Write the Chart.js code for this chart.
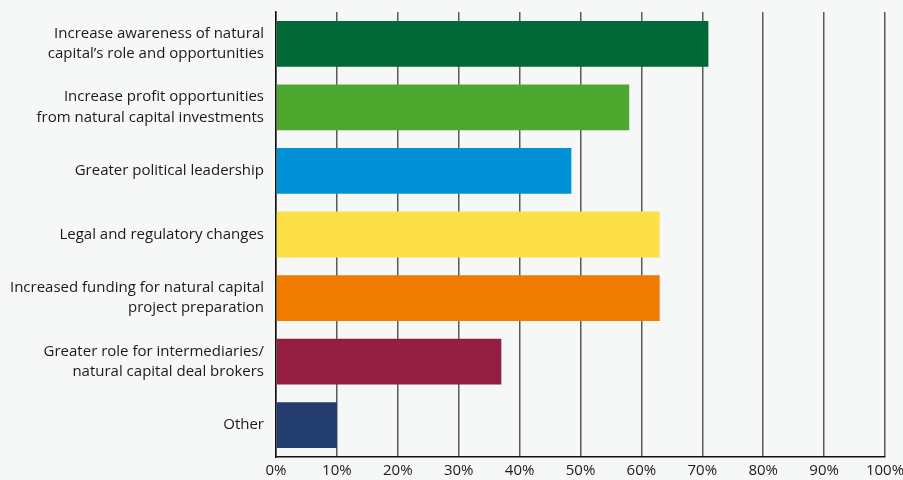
<!DOCTYPE html>
<html>
<head>
<meta charset="utf-8">
<script src="https://cdn.jsdelivr.net/npm/chart.js@4/dist/chart.umd.min.js"></script>
<style>
  html, body { margin: 0; padding: 0; background: #f6f7f7; }
  #wrap { width: 903px; height: 480px; }
</style>
</head>
<body>
<div id="wrap"><canvas id="chart"></canvas></div>
<script>
const categories = [
    ["Increase awareness of natural", "capital\u2019s role and opportunities"],
    ["Increase profit opportunities", "from natural capital investments"],
    "Greater political leadership",
    "Legal and regulatory changes",
    ["Increased funding for natural capital", "project preparation"],
    ["Greater role for intermediaries/", "natural capital deal brokers"],
    "Other"
];
const shares = [71, 58, 48.5, 63, 63, 37, 10];
const barColors = ['#006937', '#4ea72f', '#0091d6', '#fde047', '#ef7c00', '#941d42', '#233d6e'];
const xTicks = [0, 10, 20, 30, 40, 50, 60, 70, 80, 90, 100];

const ctx = document.getElementById('chart').getContext('2d');

const chart = new Chart(ctx, {
    type: 'bar',
    data: {
        labels: categories,
        datasets: [{
            data: shares,
            backgroundColor: barColors,
            borderWidth: 0,
            barPercentage: 0.8,
            categoryPercentage: 0.9
        }]
    },
    options: {
        indexAxis: 'y',
        responsive: true,
        maintainAspectRatio: false,
        animation: false,
        layout: {
            padding: { top: 12, right: 18, left: 0, bottom: 0 }
        },
        plugins: {
            legend: { display: false },
            tooltip: { enabled: false }
        },
        scales: {
            x: {
                min: 0,
                max: 100,
                afterBuildTicks: function(scale) {
                    scale.ticks = xTicks.map(v => ({ value: v }));
                },
                // fixed axis height so the plot ends where the reference does
                afterFit: function(scale) {
                    scale.height = 23;
                    scale.paddingLeft = 0;
                    scale.paddingRight = 0;
                },
                ticks: {
                    padding: 5,
                    color: '#1a1a1a',
                    font: { family: 'Open Sans', size: 15 },
                    maxRotation: 0,
                    callback: function(value) {
                        return value + '%';
                    }
                },
                grid: {
                    color: '#5a5a5a',
                    lineWidth: 1.5,
                    drawTicks: false
                },
                border: {
                    display: true,
                    color: '#111',
                    width: 1.5
                }
            },
            y: {
                afterFit: function(scale) {
                    scale.width = 276;
                    scale.paddingTop = 0;
                    scale.paddingBottom = 0;
                },
                ticks: {
                    padding: 12,
                    color: '#1a1a1a',
                    font: { family: 'Open Sans', size: 15, lineHeight: 1.35 }
                },
                grid: {
                    display: false,
                    drawTicks: false
                },
                border: {
                    display: true,
                    color: '#111',
                    width: 1.5
                }
            }
        }
    }
});
</script>
</body>
</html>
